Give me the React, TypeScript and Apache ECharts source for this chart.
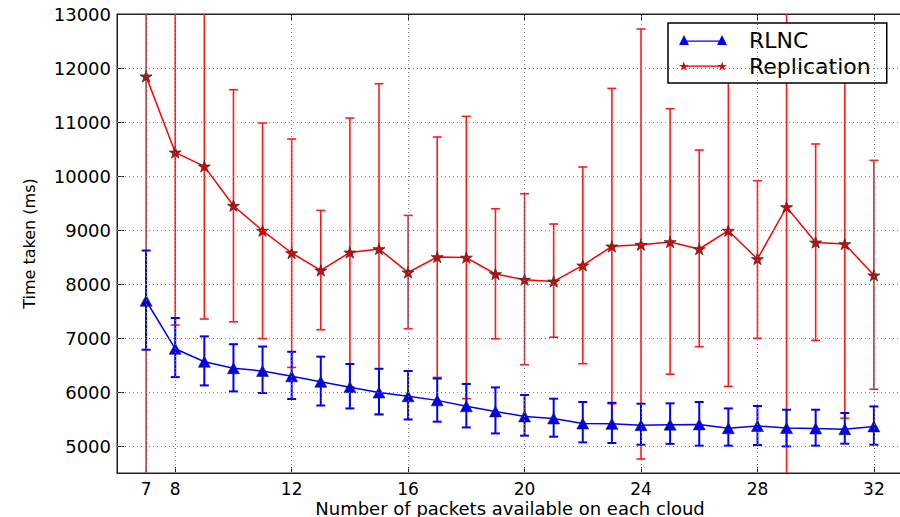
import React, { useEffect, useRef } from "react";
import * as echarts from "echarts";

const packets = [7, 8, 9, 10, 11, 12, 13, 14, 15, 16, 17, 18, 19, 20, 21, 22, 23, 24, 25, 26, 27, 28, 29, 30, 31, 32];

const rlncMean = [7690, 6800, 6560, 6440, 6390, 6290, 6190, 6090, 5990, 5920, 5845, 5735, 5640, 5548, 5510, 5415, 5410, 5385, 5395, 5400, 5330, 5370, 5333, 5325, 5310, 5363];
const rlncUpper = [8620, 7370, 7030, 6885, 6842, 6745, 6654, 6519, 6430, 6389, 6250, 6148, 6085, 5944, 5876, 5815, 5800, 5783, 5790, 5815, 5696, 5741, 5672, 5672, 5611, 5733];
const rlncLower = [6783, 6276, 6122, 6011, 5981, 5870, 5750, 5696, 5585, 5491, 5450, 5344, 5233, 5191, 5172, 5067, 5056, 5024, 5040, 5006, 5006, 5019, 4993, 5006, 5043, 5024];

const repMean = [11845, 10437, 10178, 9450, 8987, 8574, 8252, 8585, 8648, 8215, 8500, 8490, 8185, 8080, 8048, 8345, 8697, 8728, 8778, 8648, 8987, 8463, 9426, 8770, 8741, 8160];
const repUpper = [19500, 13640, 13050, 11598, 10981, 10685, 9363, 11074, 11709, 9270, 10722, 11104, 9394, 9672, 9111, 10167, 11622, 12722, 11246, 10481, 11870, 9913, 15000, 10593, 11960, 10289];
const repLower = [4000, 7240, 7352, 7300, 6990, 6455, 7154, 6096, 5585, 7172, 6270, 5876, 6985, 6505, 7015, 6524, 5783, 4759, 6330, 6840, 6104, 6995, 3900, 6956, 5515, 6050];

const xTicks = [7, 8, 12, 16, 20, 24, 28, 32];
const yTicks = [5000, 6000, 7000, 8000, 9000, 10000, 11000, 12000, 13000];

const seriesNames = ["RLNC", "Replication"];

const STAR =
  "path://M10,0 L12.245,6.91 L19.511,6.91 L13.633,11.18 L15.878,18.09 L10,13.82 L4.122,18.09 L6.367,11.18 L0.489,6.91 L7.755,6.91 Z";
const LEGEND_TRI =
  "path://M0,10 L5,0 L10,10 Z M38,10 L43,0 L48,10 Z M5,5.6 L43,5.6 L43,6.8 L5,6.8 Z";
const LEGEND_STAR =
  "path://M5,0 L6.12,3.45 L9.76,3.45 L6.82,5.59 L7.94,9.05 L5,6.91 L2.06,9.05 L3.18,5.59 L0.24,3.45 L3.88,3.45 Z " +
  "M43,0 L44.12,3.45 L47.76,3.45 L44.82,5.59 L45.94,9.05 L43,6.91 L40.06,9.05 L41.18,5.59 L38.24,3.45 L41.88,3.45 Z " +
  "M5,4.0 L43,4.0 L43,5.2 L5,5.2 Z";

const FONT = "DejaVu Sans";

function errorBarRenderer(color: string, lineWidth: number) {
  return (params: any, api: any) => {
    const x = api.value(0);
    const lo = api.value(1);
    const hi = api.value(2);
    const pLo = api.coord([x, lo]);
    const pHi = api.coord([x, hi]);
    const cs = params.coordSys;
    const top = cs.y;
    const bottom = cs.y + cs.height;
    const yHi = Math.max(pHi[1], top);
    const yLo = Math.min(pLo[1], bottom);
    const half = 4.5;
    const style = { stroke: color, lineWidth };
    const children: any[] = [
      { type: "line", shape: { x1: pHi[0], y1: yHi, x2: pHi[0], y2: yLo }, style },
    ];
    if (pHi[1] >= top) {
      children.push({ type: "line", shape: { x1: pHi[0] - half, y1: pHi[1], x2: pHi[0] + half, y2: pHi[1] }, style });
    }
    if (pLo[1] <= bottom) {
      children.push({ type: "line", shape: { x1: pLo[0] - half, y1: pLo[1], x2: pLo[0] + half, y2: pLo[1] }, style });
    }
    return { type: "group", children };
  };
}

export default function App() {
  const ref = useRef<HTMLDivElement>(null);

  useEffect(() => {
    if (!ref.current) return;
    const chart = echarts.init(ref.current, null, { renderer: "svg" });

    const rlncLine = packets.map((p, i) => [p, rlncMean[i]]);
    const repLine = packets.map((p, i) => [p, repMean[i]]);
    const rlncErr = packets.map((p, i) => [p, rlncLower[i], rlncUpper[i]]);
    const repErr = packets.map((p, i) => [p, repLower[i], repUpper[i]]);

    const gridMarks = [
      ...xTicks.map((v) => ({ xAxis: v })),
      ...yTicks.filter((v) => v < 13000).map((v) => ({ yAxis: v })),
    ];

    chart.setOption({
      animation: false,
      backgroundColor: "#ffffff",
      textStyle: { fontFamily: FONT },
      grid: {
        left: 117,
        top: 14,
        width: 786,
        height: 459,
        containLabel: false,
        outerBoundsMode: "none",
        show: true,
        borderColor: "#222",
        borderWidth: 1,
        backgroundColor: "transparent",
      },
      legend: {
        left: 668,
        top: 23,
        orient: "vertical",
        itemWidth: 48,
        itemHeight: 10,
        itemGap: 4,
        padding: [6, 16, 6, 11],
        backgroundColor: "#ffffff",
        borderColor: "#000",
        borderWidth: 1.5,
        borderRadius: 0,
        textStyle: { fontFamily: FONT, fontSize: 22, color: "#000", padding: [0, 0, 0, 17], lineHeight: 22 },
        data: [
          { name: seriesNames[0], icon: LEGEND_TRI, itemStyle: { borderWidth: 0, color: "#0000ff" } },
          { name: seriesNames[1], icon: LEGEND_STAR, itemStyle: { borderWidth: 0, color: "#e00000" } },
        ],
      },
      xAxis: [
        {
          type: "value",
          min: 6,
          max: 33,
          position: "bottom",
          axisLine: { show: true, lineStyle: { color: "#222", width: 1 } },
          axisTick: { show: true, inside: true, length: 6, customValues: xTicks, lineStyle: { color: "#222" } },
          axisLabel: { customValues: xTicks, fontSize: 17, lineHeight: 17, color: "#000", margin: 7, fontFamily: FONT },
          splitLine: { show: false },
          name: "Number of packets available on each cloud",
          nameLocation: "middle",
          nameGap: 26,
          nameMoveOverlap: false,
          nameTextStyle: { fontSize: 18, lineHeight: 18, color: "#000", fontFamily: FONT },
        },
        {
          type: "value",
          min: 6,
          max: 33,
          position: "top",
          axisLine: { show: true, lineStyle: { color: "#222", width: 1 } },
          axisTick: { show: true, inside: true, length: 6, customValues: xTicks, lineStyle: { color: "#222" } },
          axisLabel: { show: false },
          splitLine: { show: false },
        },
      ],
      yAxis: {
        type: "value",
        min: 4500,
        max: 13000,
        axisLine: { show: true, lineStyle: { color: "#222", width: 1 } },
        axisTick: { show: true, inside: true, length: 7, customValues: yTicks, lineStyle: { color: "#222" } },
        axisLabel: {
          customValues: yTicks,
          fontSize: 18,
          color: "#000",
          margin: 6,
          fontFamily: FONT,
          formatter: (v: number) => String(v),
        },
        splitLine: { show: false },
        name: "Time taken (ms)",
        nameLocation: "middle",
        nameGap: 80,
        nameMoveOverlap: false,
        nameTextStyle: { fontSize: 16, color: "#000", fontFamily: FONT },
      },
      series: [
        {
          name: "grid",
          type: "line",
          xAxisIndex: 0,
          data: [],
          silent: true,
          z: 0,
          markLine: {
            silent: true,
            symbol: ["none", "none"],
            label: { show: false },
            lineStyle: { color: "#808080", width: 1, type: [1, 3] },
            data: gridMarks,
          },
        },
        {
          name: seriesNames[1] + " error",
          type: "custom",
          xAxisIndex: 0,
          renderItem: errorBarRenderer("#ff1a1a", 1.6),
          encode: { x: 0, y: [1, 2] },
          data: repErr,
          z: 1,
          silent: true,
        },
        {
          name: seriesNames[0] + " error",
          type: "custom",
          xAxisIndex: 0,
          renderItem: errorBarRenderer("#0000ff", 2),
          encode: { x: 0, y: [1, 2] },
          data: rlncErr,
          z: 2,
          silent: true,
        },
        {
          name: seriesNames[1],
          type: "line",
          xAxisIndex: 0,
          data: repLine,
          symbol: STAR,
          symbolKeepAspect: true,
          symbolSize: 12,
          lineStyle: { color: "#ff0000", width: 1.5 },
          itemStyle: { color: "#e00000", borderColor: "#333", borderWidth: 0.8 },
          z: 3,
        },
        {
          name: seriesNames[0],
          type: "line",
          xAxisIndex: 0,
          data: rlncLine,
          symbol: "triangle",
          symbolSize: [12, 11],
          lineStyle: { color: "#0000ff", width: 1.5 },
          itemStyle: { color: "#0000ff", borderColor: "#222", borderWidth: 0.6 },
          z: 4,
        },
      ],
    });

    return () => chart.dispose();
  }, []);

  return (
    <div
      ref={ref}
      style={{ position: "absolute", left: 0, top: 0, width: 900, height: 517 }}
    />
  );
}
